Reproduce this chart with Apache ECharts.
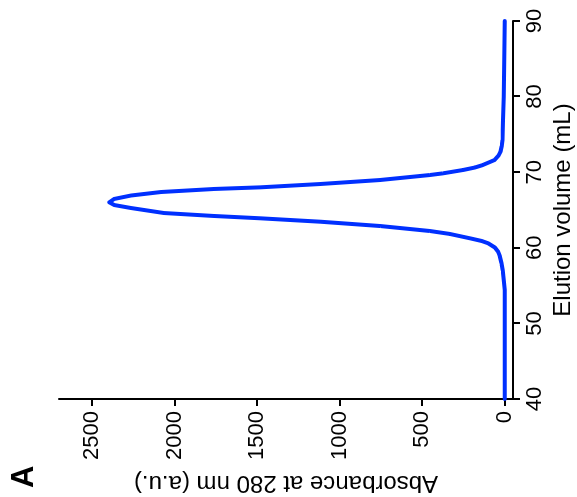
<!DOCTYPE html>
<html><head><meta charset="utf-8">
<script src="https://cdn.jsdelivr.net/npm/echarts@6/dist/echarts.min.js"></script>
<style>
html,body{margin:0;padding:0;width:577px;height:497px;overflow:hidden;background:#fff}
#chart{position:absolute;left:40px;top:-40px;width:497px;height:577px;transform:rotate(-90deg);transform-origin:50% 50%}
</style></head><body>
<div id="chart"></div>
<script>
// Elution volume (mL) and absorbance at 280 nm (a.u.)
const elutionVolume = [40, 53.1, 54.42, 55.74, 57.0, 57.95, 58.9, 59.48, 60.04, 60.6, 60.9, 61.26, 61.83, 62.22, 62.88, 63.45, 63.9, 64.21, 64.6, 65.26, 65.66, 66.02,
  66.46, 66.92, 67.38, 67.78, 68.0, 68.44, 68.97, 69.63, 69.85, 70.29, 70.62, 70.95, 71.61, 72.2, 72.71, 73.47, 74.26, 76.9, 79.95, 84.84, 90];
const absorbance = [0, 0, 0, 6, 12, 20, 30, 40, 60, 101, 139, 211, 332, 453, 754, 1116, 1479, 1762, 2064, 2263, 2366, 2395,
  2366, 2263, 2082, 1762, 1479, 1116, 754, 453, 374, 253, 181, 133, 62, 38, 26, 18, 14, 10, 6, 3, 0];
const volumeTicks = [40, 50, 60, 70, 80, 90];
const absorbanceTicks = [0, 500, 1000, 1500, 2000, 2500];
const panelLabel = 'A';
const xName = 'Elution volume (mL)';
const yName = 'Absorbance at 280 nm (a.u.)';

const font = 'Liberation Sans';
const chart = echarts.init(document.getElementById('chart'));
chart.setOption({
  animation: false,
  backgroundColor: '#fff',
  title: { text: panelLabel, left: 4, top: 4, textStyle: { fontFamily: font, fontSize: 31, fontWeight: 'bold', color: '#000' } },
  grid: { left: 98, right: 21, top: 59, bottom: 64, containLabel: false, outerBoundsMode: 'none' },
  xAxis: {
    type: 'value', min: volumeTicks[0], max: volumeTicks[volumeTicks.length - 1], interval: 10,
    axisLine: { onZero: false, lineStyle: { color: '#000', width: 2 } },
    axisTick: { length: 7, lineStyle: { color: '#000', width: 2 } },
    axisLabel: { fontFamily: font, fontSize: 22, color: '#000', margin: 11, formatter: v => String(v) },
    splitLine: { show: false },
    name: xName, nameLocation: 'middle', nameGap: 31,
    nameTextStyle: { fontFamily: font, fontSize: 24, color: '#000' }
  },
  yAxis: {
    type: 'value', min: -50, max: 2700,
    axisLine: { show: true, onZero: false, lineStyle: { color: '#000', width: 2 } },
    axisTick: { show: true, length: 7, customValues: absorbanceTicks, lineStyle: { color: '#000', width: 2 } },
    axisLabel: { customValues: absorbanceTicks, fontFamily: font, fontSize: 22, color: '#000', margin: 12, formatter: v => String(v) },
    splitLine: { show: false },
    name: yName, nameLocation: 'middle', nameGap: 51,
    nameTextStyle: { fontFamily: font, fontSize: 24, color: '#000' }
  },
  series: [{
    type: 'line',
    data: elutionVolume.map((v, i) => [v, absorbance[i]]),
    showSymbol: false, symbol: 'none',
    smooth: false,
    lineStyle: { color: '#0030ff', width: 4, join: 'round', cap: 'round' },
    clip: false
  }]
});
</script>
</body></html>
